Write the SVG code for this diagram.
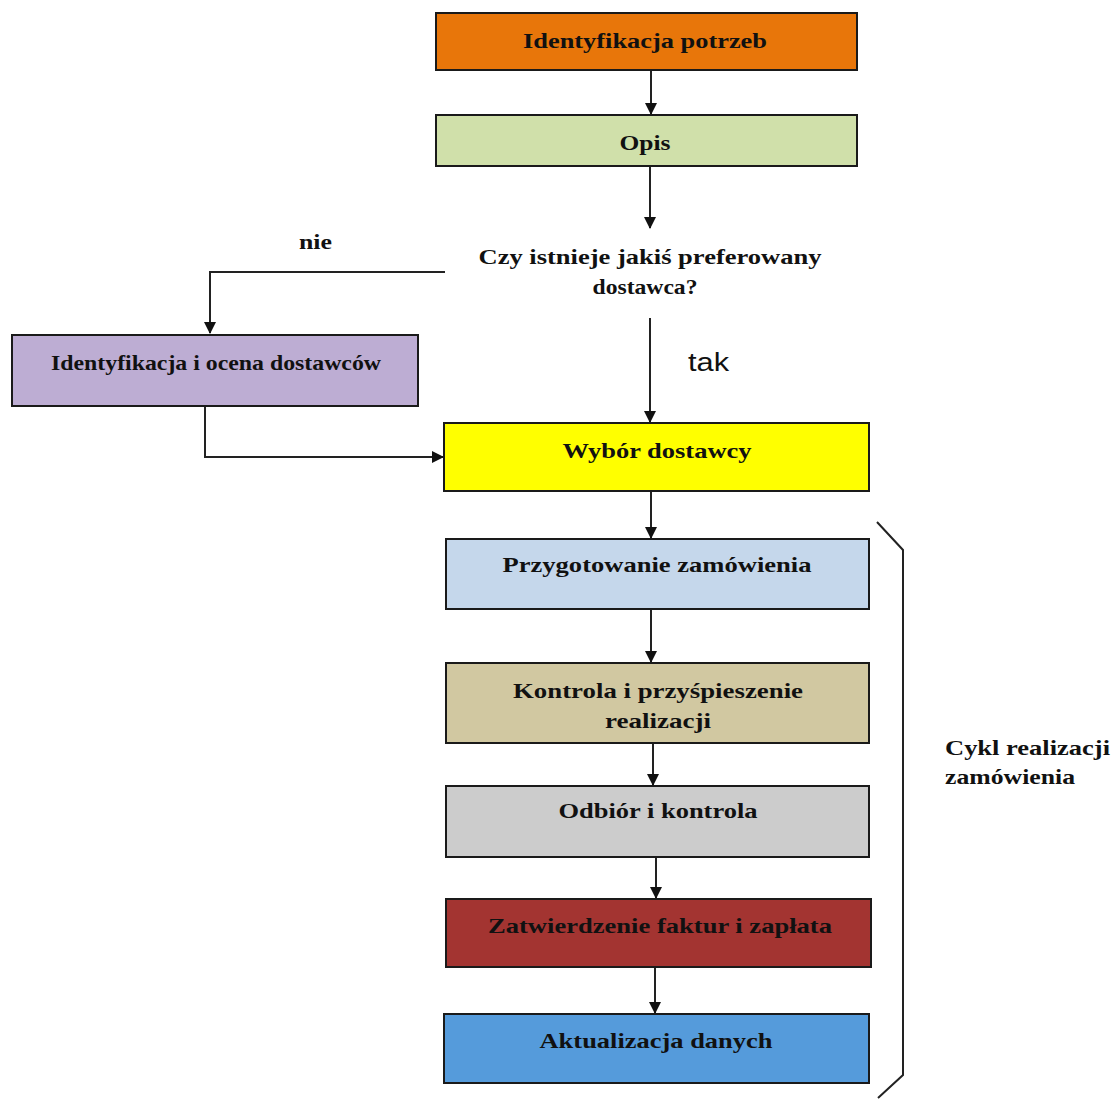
<svg xmlns="http://www.w3.org/2000/svg" width="1115" height="1100" viewBox="0 0 1115 1100">
  <style>
    .box { stroke: #1a1a1a; stroke-width: 2; }
    .lbl { font-family: "Liberation Serif", "Times New Roman", serif; font-weight: bold; font-size: 22px; fill: #111; text-anchor: middle; }
    .side { font-family: "Liberation Serif", "Times New Roman", serif; font-weight: bold; font-size: 22px; fill: #111; }
    .conn { fill: none; stroke: #222; stroke-width: 2; }
  </style>
  <defs>
    <marker id="arrow" viewBox="0 0 12 12" refX="11" refY="6" markerWidth="12" markerHeight="12" markerUnits="userSpaceOnUse" orient="auto">
      <path d="M0,0 L12,6 L0,12 Z" fill="#111"/>
    </marker>
  </defs>
  <rect width="1115" height="1100" fill="#ffffff"/>

  <g id="connectors">
    <path class="conn" d="M651,70 V114" marker-end="url(#arrow)"/>
    <path class="conn" d="M650,166 V228" marker-end="url(#arrow)"/>
    <path class="conn" d="M445,272 H210 V333" marker-end="url(#arrow)"/>
    <path class="conn" d="M650,318 V422" marker-end="url(#arrow)"/>
    <path class="conn" d="M205,406 V457 H443" marker-end="url(#arrow)"/>
    <path class="conn" d="M651,491 V538" marker-end="url(#arrow)"/>
    <path class="conn" d="M651,609 V662" marker-end="url(#arrow)"/>
    <path class="conn" d="M653,743 V785" marker-end="url(#arrow)"/>
    <path class="conn" d="M656,857 V898" marker-end="url(#arrow)"/>
    <path class="conn" d="M655,967 V1013" marker-end="url(#arrow)"/>
    <!-- brace grouping the order cycle -->
    <path class="conn" d="M877,522 L903,550 V1075 L878,1098"/>
  </g>

  <g id="n-identyfikacja-potrzeb">
    <rect class="box" x="436" y="13" width="421" height="57" fill="#E8760A"/>
    <text class="lbl" x="645" y="48" textLength="244" lengthAdjust="spacingAndGlyphs">Identyfikacja potrzeb</text>
  </g>
  <g id="n-opis">
    <rect class="box" x="436" y="115" width="421" height="51" fill="#D0E0AA"/>
    <text class="lbl" x="645" y="150" textLength="51" lengthAdjust="spacingAndGlyphs">Opis</text>
  </g>
  <g id="n-pytanie">
    <text class="lbl" x="650" y="264" textLength="343" lengthAdjust="spacingAndGlyphs">Czy istnieje jakiś preferowany</text>
    <text class="lbl" x="645" y="294" textLength="105" lengthAdjust="spacingAndGlyphs">dostawca?</text>
  </g>
  <g id="l-nie">
    <text class="side" x="299" y="249" textLength="33" lengthAdjust="spacingAndGlyphs">nie</text>
  </g>
  <g id="l-tak">
    <text x="688" y="371" font-family="Liberation Sans, Arial, sans-serif" font-size="25" fill="#111" textLength="41" lengthAdjust="spacingAndGlyphs">tak</text>
  </g>
  <g id="n-identyfikacja-ocena">
    <rect class="box" x="12" y="335" width="406" height="71" fill="#BDADD3"/>
    <text class="lbl" x="216" y="370" textLength="330" lengthAdjust="spacingAndGlyphs">Identyfikacja i ocena dostawców</text>
  </g>
  <g id="n-wybor">
    <rect class="box" x="444" y="423" width="425" height="68" fill="#FFFF00"/>
    <text class="lbl" x="657" y="458" textLength="189" lengthAdjust="spacingAndGlyphs">Wybór dostawcy</text>
  </g>
  <g id="n-przygotowanie">
    <rect class="box" x="446" y="539" width="423" height="70" fill="#C5D7EB"/>
    <text class="lbl" x="657" y="572" textLength="309" lengthAdjust="spacingAndGlyphs">Przygotowanie zamówienia</text>
  </g>
  <g id="n-kontrola">
    <rect class="box" x="446" y="663" width="423" height="80" fill="#D1C8A1"/>
    <text class="lbl" x="658" y="698" textLength="290" lengthAdjust="spacingAndGlyphs">Kontrola i przyśpieszenie</text>
    <text class="lbl" x="658" y="728" textLength="106" lengthAdjust="spacingAndGlyphs">realizacji</text>
  </g>
  <g id="n-odbior">
    <rect class="box" x="446" y="786" width="423" height="71" fill="#CCCCCC"/>
    <text class="lbl" x="658" y="818" textLength="199" lengthAdjust="spacingAndGlyphs">Odbiór i kontrola</text>
  </g>
  <g id="n-zatwierdzenie">
    <rect class="box" x="446" y="899" width="425" height="68" fill="#A33431"/>
    <text class="lbl" x="660" y="933" textLength="344" lengthAdjust="spacingAndGlyphs">Zatwierdzenie faktur i zapłata</text>
  </g>
  <g id="n-aktualizacja">
    <rect class="box" x="444" y="1014" width="425" height="69" fill="#559BDB"/>
    <text class="lbl" x="656" y="1048" textLength="233" lengthAdjust="spacingAndGlyphs">Aktualizacja danych</text>
  </g>
  <g id="l-cykl">
    <text class="side" x="945" y="755" textLength="165" lengthAdjust="spacingAndGlyphs">Cykl realizacji</text>
    <text class="side" x="945" y="784" textLength="130" lengthAdjust="spacingAndGlyphs">zamówienia</text>
  </g>
</svg>
